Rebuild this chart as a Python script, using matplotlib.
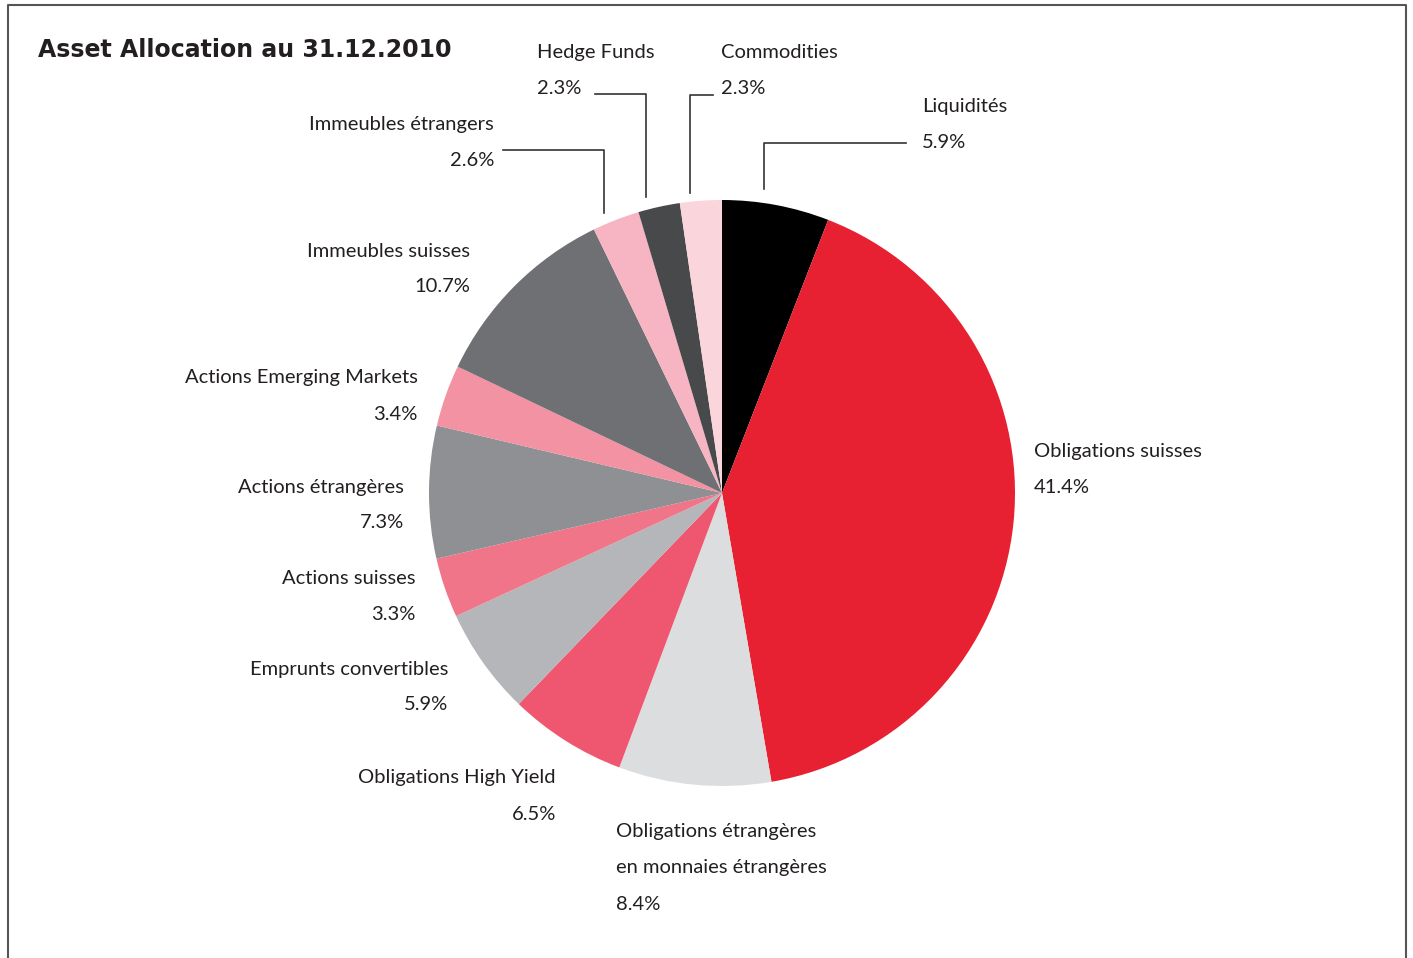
import matplotlib
matplotlib.use("Agg")
import matplotlib.pyplot as plt

plt.rcParams['font.family'] = ['Lato', 'DejaVu Sans']

# data (clockwise from 12 o'clock)
categories = ["Liquidités", "Obligations suisses",
              "Obligations étrangères\nen monnaies étrangères",
              "Obligations High Yield", "Emprunts convertibles", "Actions suisses",
              "Actions étrangères", "Actions Emerging Markets", "Immeubles suisses",
              "Immeubles étrangers", "Hedge Funds", "Commodities"]
shares = [5.9, 41.4, 8.4, 6.5, 5.9, 3.3, 7.3, 3.4, 10.7, 2.6, 2.3, 2.3]
colors = ["#000000", "#E82132", "#DCDDDF", "#EF5770", "#B5B6B9", "#F07588",
          "#8F9094", "#F392A2", "#6F7074", "#F7B5C3", "#48494B", "#FAD6DC"]

W, H = 1413, 958
fig = plt.figure(figsize=(W / 100, H / 100), dpi=100)
ax = fig.add_axes([0, 0, 1, 1])

# pie drawn in pixel space (y axis inverted -> counterclock=True looks clockwise)
cx, cy, r = 722, 493, 293
ax.pie(shares, colors=colors, startangle=-90, counterclock=True,
       center=(cx, cy), radius=r, frame=True,
       wedgeprops=dict(linewidth=0))
ax.set_xlim(0, W)
ax.set_ylim(H, 0)
ax.set_aspect('equal')
ax.axis('off')

tc = "#231F20"
fs = 14.5

# frame
ax.plot([8, 8, 1406, 1406], [H + 5, 5, 5, H + 5], color="#555555", lw=1.5, clip_on=False)

ax.text(38, 50, "Asset Allocation au 31.12.2010", fontsize=17, fontweight='bold',
        color=tc, va='center', ha='left', family=['DejaVu Sans'])

# label positions (pixel coords): x, y of name, alignment
pos = {
    "Liquidités": (922, 106, 'left'),
    "Obligations suisses": (1034, 451, 'left'),
    "Obligations étrangères\nen monnaies étrangères": (616, 832, 'left'),
    "Obligations High Yield": (556, 778, 'right'),
    "Emprunts convertibles": (448, 669, 'right'),
    "Actions suisses": (415, 578, 'right'),
    "Actions étrangères": (404, 487, 'right'),
    "Actions Emerging Markets": (418, 378, 'right'),
    "Immeubles suisses": (470, 251, 'right'),
    "Immeubles étrangers": (494, 124, 'right'),
    "Hedge Funds": (537, 52, 'left'),
    "Commodities": (721, 52, 'left'),
}
for name, val in zip(categories, shares):
    x, y, ha = pos[name]
    lines = name.split("\n")
    for i, ln in enumerate(lines):
        ax.text(x, y + 36 * i, ln, fontsize=fs, color=tc, ha=ha, va='center')
    ax.text(x, y + 36 * len(lines), f"{val:.1f}%", fontsize=fs, color=tc, ha=ha, va='center')

# leader lines
lc = "#333333"
ax.plot([906, 764, 764], [143, 143, 189], color=lc, lw=1.2)
ax.plot([713, 690, 690], [95, 95, 193], color=lc, lw=1.2)
ax.plot([595, 646, 646], [94, 94, 197], color=lc, lw=1.2)
ax.plot([503, 604, 604], [150, 150, 213], color=lc, lw=1.2)

fig.savefig("out.png", dpi=100)
